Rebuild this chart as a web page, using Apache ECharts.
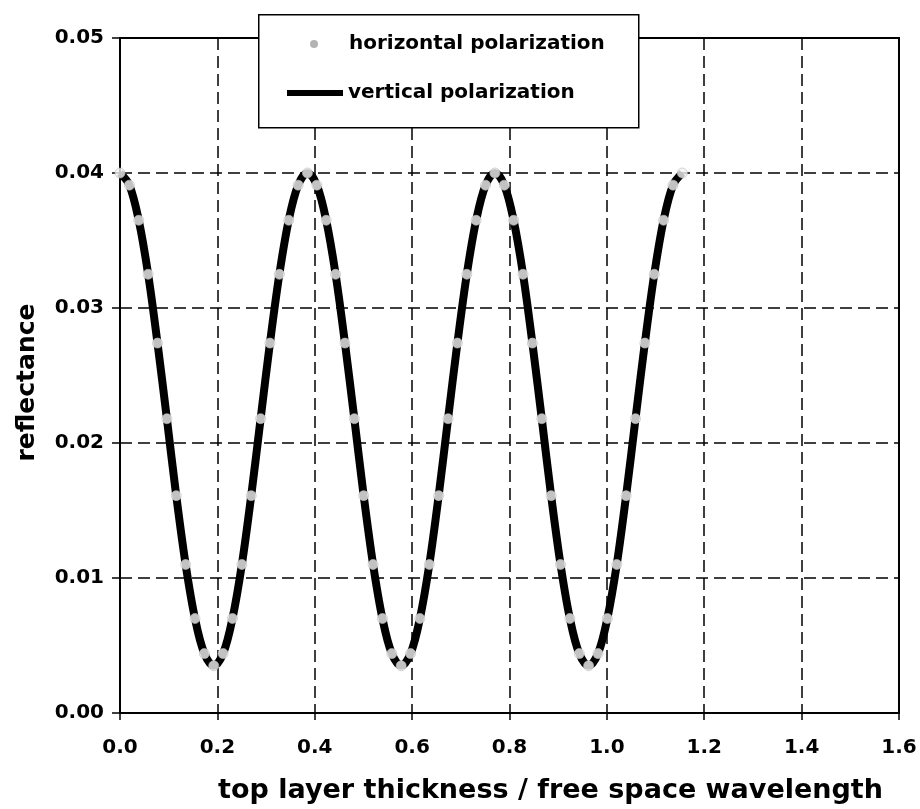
<!DOCTYPE html>
<html>
<head>
<meta charset="utf-8">
<script src="https://cdn.jsdelivr.net/npm/echarts@6/dist/echarts.min.js"></script>
<style>html,body{margin:0;padding:0;background:#fff;}#c{width:920px;height:809px;}</style>
</head>
<body>
<div id="c"></div>
<script>
const seriesNames = ['horizontal polarization', 'vertical polarization'];
const xTickLabels = ['0.0','0.2','0.4','0.6','0.8','1.0','1.2','1.4','1.6'];
const yTickLabels = ['0.00','0.01','0.02','0.03','0.04','0.05'];
const thickness = [0.0000,0.0193,0.0385,0.0578,0.0770,0.0963,0.1155,0.1348,0.1540,0.1733,
  0.1925,0.2118,0.2310,0.2503,0.2695,0.2888,0.3080,0.3273,0.3465,0.3658,
  0.3850,0.4043,0.4235,0.4428,0.4620,0.4813,0.5005,0.5198,0.5390,0.5583,
  0.5775,0.5968,0.6160,0.6353,0.6545,0.6738,0.6930,0.7123,0.7315,0.7508,
  0.7700,0.7893,0.8085,0.8278,0.8470,0.8663,0.8855,0.9048,0.9240,0.9433,
  0.9625,0.9818,1.0010,1.0203,1.0395,1.0588,1.0780,1.0973,1.1165,1.1358,
  1.1550];
const reflectanceH = [0.0400,0.0391,0.0365,0.0325,0.0274,0.0218,0.0161,0.0110,0.0070,0.0044,
  0.0035,0.0044,0.0070,0.0110,0.0161,0.0218,0.0274,0.0325,0.0365,0.0391,
  0.0400,0.0391,0.0365,0.0325,0.0274,0.0218,0.0161,0.0110,0.0070,0.0044,
  0.0035,0.0044,0.0070,0.0110,0.0161,0.0218,0.0274,0.0325,0.0365,0.0391,
  0.0400,0.0391,0.0365,0.0325,0.0274,0.0218,0.0161,0.0110,0.0070,0.0044,
  0.0035,0.0044,0.0070,0.0110,0.0161,0.0218,0.0274,0.0325,0.0365,0.0391,
  0.0400];
const reflectanceV = [0.0400,0.0391,0.0365,0.0325,0.0274,0.0218,0.0161,0.0110,0.0070,0.0044,
  0.0035,0.0044,0.0070,0.0110,0.0161,0.0218,0.0274,0.0325,0.0365,0.0391,
  0.0400,0.0391,0.0365,0.0325,0.0274,0.0218,0.0161,0.0110,0.0070,0.0044,
  0.0035,0.0044,0.0070,0.0110,0.0161,0.0218,0.0274,0.0325,0.0365,0.0391,
  0.0400,0.0391,0.0365,0.0325,0.0274,0.0218,0.0161,0.0110,0.0070,0.0044,
  0.0035,0.0044,0.0070,0.0110,0.0161,0.0218,0.0274,0.0325,0.0365,0.0391,
  0.0400];

const FONT = 'DejaVu Sans';
const chart = echarts.init(document.getElementById('c'), null, {renderer: 'canvas'});
const dashed = {color: '#000', width: 1.5, type: [12, 6]};

chart.setOption({
  animation: false,
  backgroundColor: '#fff',
  grid: {left: 120, right: 21, top: 38, bottom: 96, show: true, borderColor: '#000', borderWidth: 2, backgroundColor: 'transparent'},
  graphic: [{
    type: 'rect', z: 3, left: 258, top: 14,
    shape: {width: 380, height: 113},
    style: {fill: '#fff', stroke: '#000', lineWidth: 1.5}
  }],
  legend: [{
    data: [{name: seriesNames[0], itemStyle: {color: '#a0a0a0', borderWidth: 0}}],
    left: 310, top: 34, padding: 0, itemWidth: 60, itemHeight: 8, icon: 'circle', z: 5,
    textStyle: {fontFamily: FONT, fontWeight: 'bold', fontSize: 20, color: '#000'}
  }, {
    data: [{name: seriesNames[1], icon: 'rect', itemStyle: {color: '#000', borderWidth: 0}}],
    left: 287, top: 83, padding: 0, itemWidth: 56, itemHeight: 6, z: 5,
    textStyle: {fontFamily: FONT, fontWeight: 'bold', fontSize: 20, color: '#000'}
  }],
  xAxis: {
    type: 'value', min: 0, max: 1.6, interval: 0.2,
    name: 'top layer thickness / free space wavelength',
    nameLocation: 'middle', nameGap: 64,
    nameTextStyle: {fontFamily: FONT, fontWeight: 'bold', fontSize: 27, color: '#000', padding: [0, 0, 0, 82]},
    axisLine: {show: true, onZero: false, lineStyle: {color: '#000', width: 2}},
    axisTick: {show: true, length: 7, lineStyle: {color: '#000', width: 1.5}},
    axisLabel: {margin: 25, fontFamily: FONT, fontWeight: 'bold', fontSize: 20, color: '#000',
      formatter: v => xTickLabels[Math.round(v / 0.2)]},
    splitLine: {show: true, lineStyle: dashed}
  },
  yAxis: {
    type: 'value', min: 0, max: 0.05, interval: 0.01,
    name: 'reflectance', nameLocation: 'middle', nameGap: 80, nameRotate: 90,
    nameTextStyle: {fontFamily: FONT, fontWeight: 'bold', fontSize: 25, color: '#000', padding: [0, 14, 0, 0]},
    axisLine: {show: true, onZero: false, lineStyle: {color: '#000', width: 2}},
    axisTick: {show: true, length: 8, lineStyle: {color: '#000', width: 1.5}},
    axisLabel: {margin: 16, fontFamily: FONT, fontWeight: 'bold', fontSize: 20, color: '#000',
      formatter: v => yTickLabels[Math.round(v / 0.01)]},
    splitLine: {show: true, lineStyle: dashed}
  },
  series: [{
    name: seriesNames[1], type: 'line', z: 2,
    data: thickness.map((x, i) => [x, reflectanceV[i]]),
    showSymbol: false, smooth: 0.35,
    lineStyle: {color: '#000', width: 8},
    itemStyle: {color: '#000'}
  }, {
    name: seriesNames[0], type: 'scatter', z: 3,
    data: thickness.map((x, i) => [x, reflectanceH[i]]),
    symbol: 'circle', symbolSize: 10,
    itemStyle: {color: '#f2f2f2', borderColor: '#bbbbbb', borderWidth: 0.8}
  }]
});
</script>
</body>
</html>
